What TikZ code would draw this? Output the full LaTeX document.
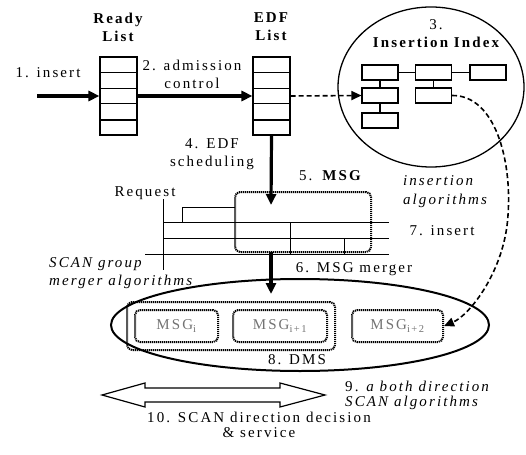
\documentclass[tikz,border=0pt]{standalone}
\usepackage{fontspec}
\setmainfont{Liberation Serif}[LetterSpace=14]
\usetikzlibrary{arrows.meta,shapes.geometric}

\tikzset{
  cell/.style={draw, line width=1.1pt, minimum width=37pt, minimum height=15.6pt, inner sep=0pt},
  ibox/.style={draw, line width=1.1pt, minimum width=36pt, minimum height=15pt, inner sep=0pt},
  msgbox/.style={draw, dash pattern=on 1.2pt off 0.8pt, line width=2pt, rounded corners=5pt, inner sep=0pt,
    text=black!55},
  heavy/.style={line width=3.2pt, -{Triangle[length=11pt,width=10pt]}},
  dasharrow/.style={dash pattern=on 5pt off 3pt, line width=1.6pt, -{Triangle[length=10pt,width=9pt]}},
  lbl/.style={font=\fontsize{15}{18}\selectfont, align=center, inner sep=0pt},
  title/.style={lbl, font=\fontsize{15}{18}\selectfont\bfseries},
}

\begin{document}
\begin{tikzpicture}[x=1pt,y=-1pt]
  \useasboundingbox (0,0) rectangle (526,454);

  % ready list and EDF list
  \node[cell] (r1) at (118.5,64.8) {};
  \node[cell] (r2) at (118.5,80.4) {};
  \node[cell] (r3) at (118.5,96.0) {};
  \node[cell] (r4) at (118.5,111.6) {};
  \node[cell] (r5) at (118.5,127.2) {};
  \node[cell] (e1) at (271.5,64.8) {};
  \node[cell] (e2) at (271.5,80.4) {};
  \node[cell] (e3) at (271.5,96.0) {};
  \node[cell] (e4) at (271.5,111.6) {};
  \node[cell] (e5) at (271.5,127.2) {};
  \draw[line width=2.2pt] (r4.south west) -- (r4.south east);
  \draw[line width=2.2pt] (e4.south west) -- (e4.south east);
  \node[title] (readyt) at (118,27) {Ready\\List};
  \node[title] (edft) at (271,27) {EDF\\List};

  % insertion index
  \node[draw, ellipse, line width=1.3pt, minimum width=186pt, minimum height=160pt] (idx) at (431,87) {};
  \node[title] (idxt) at (436,34) {\mdseries 3.\\Insertion Index};
  \node[ibox] (ia) at (380,72.5) {};
  \node[ibox] (ib) at (433.5,72.5) {};
  \node[ibox] (ic) at (488,72.5) {};
  \node[ibox] (id) at (380,95.5) {};
  \node[ibox] (ie) at (433.5,95.5) {};
  \node[ibox] (if) at (380,120.5) {};
  \begin{scope}[line width=1.1pt]
    \draw (ia) to (ib);
    \draw (ib) to (ic);
    \draw (ia) to (id);
    \draw (id) to (if);
    \draw (ib) to (ie);
  \end{scope}

  % request chart and MSG
  \begin{scope}[line width=1pt]
    \draw (163,199) -- (163,270);
    \draw (163,222) -- (389,222);
    \draw (163,238) -- (389,238);
    \draw (145,254) -- (389,254);
    \draw (182,222) -- (182,207) -- (235,207);
    \draw (290,222) -- (290,254);
    \draw (344,238) -- (344,254);
  \end{scope}
  \node[msgbox, minimum width=136pt, minimum height=60pt] (msg) at (303,222) {};
  \node[lbl] (request) at (145,193) {Request};

  % DMS
  \node[draw, ellipse, line width=2pt, minimum width=378pt, minimum height=92pt] (dms) at (300,325) {};
  \node[msgbox, minimum width=208pt, minimum height=48pt] (grp) at (231,326) {};
  \node[msgbox, minimum width=83pt, minimum height=32pt, lbl, text=black!55] (m0) at (176.5,326) {MSG\textsubscript{i}};
  \node[msgbox, minimum width=94pt, minimum height=32pt, lbl, text=black!55] (m1) at (280,326) {MSG\textsubscript{i+1}};
  \node[msgbox, minimum width=91pt, minimum height=32pt, lbl, text=black!55] (m2) at (397.5,326) {MSG\textsubscript{i+2}};

  % connectors
  \coordinate (start) at (37,96);
  \coordinate (schedend) at (271,205);
  \coordinate (mergestart) at (271,252);
  \coordinate (mergeend) at (271,294);
  \draw[heavy] (start) -- (r3.west);
  \draw[heavy] (r3.east) -- (e3.west);
  \draw[heavy] (e5.south) -- (schedend);
  \draw[heavy] (mergestart) -- (mergeend);
  \draw[dasharrow] (e3.east) -- (id.west);
  \draw[dasharrow] (ie.east) .. controls (495,95) and (512,160) .. (508,215)
    .. controls (505,270) and (470,315) .. (m2.east);

  % labels
  \node[lbl] (l1) at (48,73) {1. insert};
  \node[lbl] (l2) at (192,74) {2. admission\\control};
  \node[lbl] (l4) at (212,154) {4. EDF\\scheduling};
  \node[lbl] (l5) at (331,176) {5. \textbf{MSG}};
  \node[lbl, align=left, font=\fontsize{15}{19}\selectfont\itshape] (lins) at (445,192) {insertion\\algorithms};
  \node[lbl] (l7) at (442,231) {7. insert};
  \node[lbl, align=left, font=\fontsize{15}{18}\selectfont\itshape, anchor=west] (lscan) at (49,273) {SCAN group\\merger algorithms};
  \node[lbl] (l6) at (354,269) {6. MSG merger};
  \node[lbl] (l8) at (297,360) {8. DMS};
  \node[lbl, align=left, font=\fontsize{15}{15}\selectfont, anchor=west] (l9) at (345,395) {9. \textit{a both direction}\\\textit{SCAN algorithms}};
  \node[lbl, font=\fontsize{15}{15}\selectfont] (l10) at (259,425) {10. SCAN direction decision\\\& service};

  % both direction arrow
  \draw[line width=1.2pt] (102,395) -- (145,383) -- (145,388) -- (280,388) -- (280,383)
    -- (325,395) -- (280,407) -- (280,402) -- (145,402) -- (145,407) -- cycle;
\end{tikzpicture}
\end{document}
